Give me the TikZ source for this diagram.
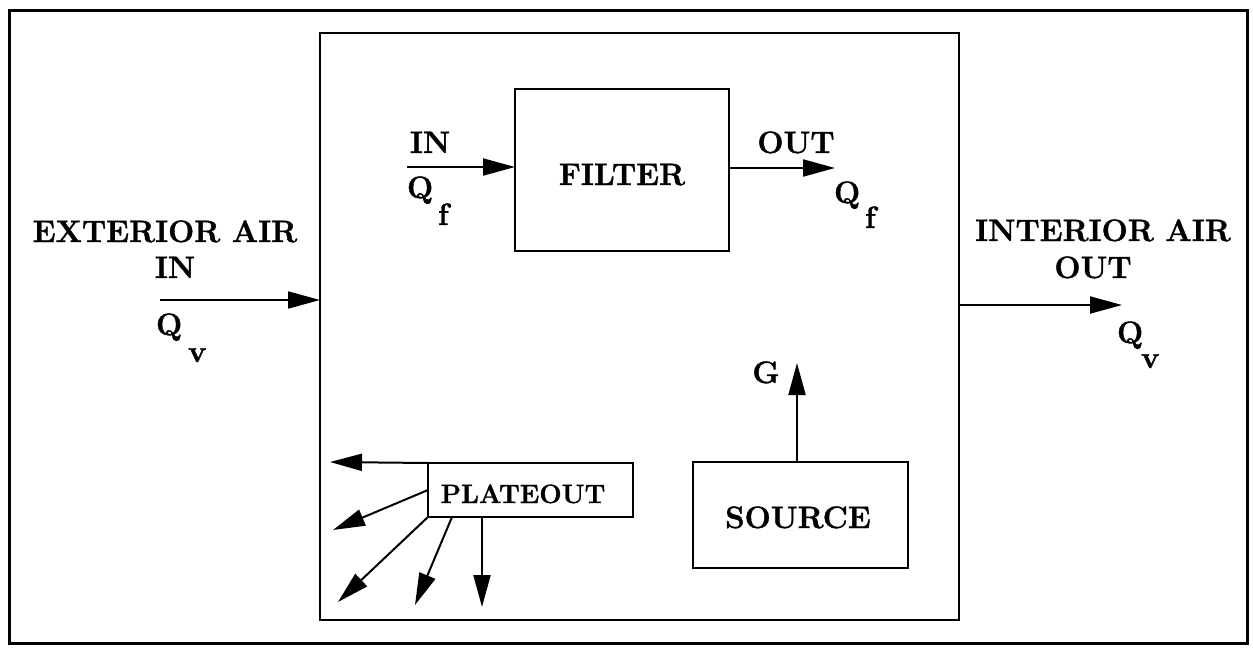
\documentclass[tikz,border=0pt]{standalone}
\usepackage{fontspec}
\setmainfont{Latin Modern Roman}[BoldFeatures={FakeBold=1.2}]
\usetikzlibrary{arrows.meta}
\begin{document}
\begin{tikzpicture}[x=1pt,y=-1pt,
  lbl/.style={font=\bfseries\fontsize{31}{36}\selectfont, inner sep=0pt, outer sep=0pt, anchor=base},
  lblw/.style={lbl, anchor=base west},
  smalllbl/.style={font=\bfseries\fontsize{26.5}{31}\selectfont, inner sep=0pt, outer sep=0pt, anchor=base},
  box/.style={draw, line width=2.2pt, inner sep=0pt, outer sep=0pt},
  arr/.style={line width=2pt, -{Triangle[length=32pt,width=17pt]}}]
\useasboundingbox (0,0) rectangle (1253,648);
% frames and boxes
\node[box, line width=3pt, minimum width=1238pt, minimum height=633pt] (frame) at (628,326.5) {};
\node[box, line width=2.5pt, minimum width=639pt, minimum height=587pt] (inner) at (639.5,326.5) {};
\node[box, minimum width=214pt, minimum height=162pt] (filter) at (622,170) {};
\node[box, minimum width=215pt, minimum height=106pt] (source) at (800.5,515) {};
\node[box, minimum width=205pt, minimum height=54pt] (plateout) at (530.5,490) {};
% box texts
\node[lbl] (filtertxt) at (622,185) {FILTER};
\node[lbl] (sourcetxt) at (798,528) {SOURCE};
\node[smalllbl] (platetxt) at (523,503) {PLATEOUT};
% exterior air
\node[lbl] (ext) at (165,242) {EXTERIOR AIR};
\node[lbl] (extin) at (175,278) {IN};
\node[lblw] (extq) at (156,335) {Q};
\node[lblw] (extv) at (188,362) {v};
\coordinate (extstart) at (160,300);
\draw[arr] (extstart) -- (extstart -| inner.west);
% interior air
\node[lbl] (int) at (1103,241) {INTERIOR AIR};
\node[lbl] (intout) at (1093,278) {OUT};
\node[lblw] (intq) at (1117,343) {Q};
\node[lblw] (intv) at (1141,368) {v};
\coordinate (intend) at (1122,305);
\draw[arr] (inner.east |- intend) -- (intend);
% filter in/out
\node[lbl] (fin) at (430,153) {IN};
\node[lblw] (finq) at (407,198) {Q};
\node[lblw] (finf) at (438,225) {f};
\coordinate (finstart) at (407,167);
\draw[arr] (finstart) -- (finstart -| filter.west);
\node[lbl] (fout) at (796,153) {OUT};
\node[lblw] (foutq) at (834,203) {Q};
\node[lblw] (foutf) at (865,228) {f};
\coordinate (foutend) at (835,168);
\draw[arr] (filter.east |- foutend) -- (foutend);
% source
\coordinate (gend) at (797,363);
\draw[arr] (source.north -| gend) -- (gend);
\node[lbl] (g) at (766,383) {G};
% plateout
\coordinate (p1) at (330,462);
\coordinate (p2) at (333,530);
\coordinate (p3) at (338,602);
\coordinate (p4) at (415,605);
\coordinate (p5) at (482,607);
\draw[arr] (plateout.north west) -- (p1);
\draw[arr] (plateout.west) -- (p2);
\draw[arr] (plateout.south west) -- (p3);
\draw[arr] ([xshift=24pt]plateout.south west) -- (p4);
\draw[arr] ([xshift=54pt]plateout.south west) -- (p5);
\end{tikzpicture}
\end{document}
